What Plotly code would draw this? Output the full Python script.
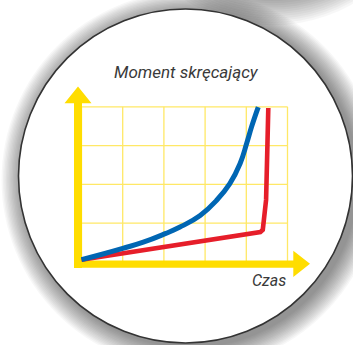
import plotly.graph_objects as go

# --- data (grid units: 5 columns x 4 rows) ---
grid_x = [0, 1, 2, 3, 4, 5]
grid_y = [0, 1, 2, 3, 4]

blue_t = [0.0, 0.5, 1.0, 1.5, 2.03, 2.39, 2.88, 3.28, 3.60, 3.85, 4.01, 4.13, 4.29]
blue_m = [0.06, 0.20, 0.35, 0.51, 0.73, 0.90, 1.20, 1.59, 2.02, 2.54, 3.06, 3.49, 3.99]

red_t = [0.0, 4.34, 4.40, 4.43, 4.48, 4.51, 4.534]
red_m = [0.06, 0.77, 0.83, 1.10, 1.60, 2.89, 3.97]

y_label = "Moment skręcający"
x_label = "Czas"

# --- page geometry ---
W, H = 353, 345
PX0, PY0 = 81.5, 262.0   # pixel position of the grid origin
SX, SY = 41.2, 38.8      # pixels per grid unit


def ux(px):
    return (px - PX0) / SX


def uy(py):
    return (PY0 - py) / SY


YELLOW = "#FFDD00"
GRID = "#FFE866"
BLUE = "#0066B3"
RED = "#E61E2A"
TEXT = "#3a3a3a"

shapes = []

# soft shadow band along the top edge
for i in range(12):
    g = i * 2.2
    cx, cy, rx, ry = 272, -95, 118 + g, 96 + g
    shapes.append(dict(type="circle", xref="x", yref="y", layer="below",
                       x0=ux(cx - rx), x1=ux(cx + rx), y0=uy(cy + ry), y1=uy(cy - ry),
                       fillcolor="rgba(0,0,0,0.03)", line_width=0))

# drop shadow of the disc
CX, CY, R = 185.5, 176.0, 167.0
for i in range(16):
    r = R + 1 + i * 1.4
    ox, oy = 5, 4
    shapes.append(dict(type="circle", xref="x", yref="y", layer="below",
                       x0=ux(CX + ox - r), x1=ux(CX + ox + r),
                       y0=uy(CY + oy + r), y1=uy(CY + oy - r),
                       fillcolor="rgba(0,0,0,0.032)", line_width=0))

# white disc with dark rim
shapes.append(dict(type="circle", xref="x", yref="y", layer="below",
                   x0=ux(CX - R), x1=ux(CX + R), y0=uy(CY + R), y1=uy(CY - R),
                   fillcolor="white", line=dict(color="#333333", width=1.6)))

# grid
for gx in grid_x:
    shapes.append(dict(type="line", xref="x", yref="y", layer="below",
                       x0=gx, x1=gx, y0=grid_y[0], y1=grid_y[-1],
                       line=dict(color=GRID, width=1.3)))
for gy in grid_y:
    shapes.append(dict(type="line", xref="x", yref="y", layer="below",
                       x0=grid_x[0], x1=grid_x[-1], y0=gy, y1=gy,
                       line=dict(color=GRID, width=1.3)))


def poly(pts):
    return "M " + " L ".join(f"{ux(a):.4f},{uy(b):.4f}" for a, b in pts) + " Z"


# vertical axis with arrow head
shapes.append(dict(type="path", xref="x", yref="y", layer="below",
                   path=poly([(74, 268), (82, 268), (82, 103.3), (91.5, 103.3),
                              (78, 86.5), (64.5, 103.3), (74, 103.3)]),
                   fillcolor=YELLOW, line_width=0))
# horizontal axis with arrow head
shapes.append(dict(type="path", xref="x", yref="y", layer="below",
                   path=poly([(74, 260.5), (293.3, 260.5), (293.3, 250.7), (310, 263.8),
                              (293.3, 276.9), (293.3, 267.8), (74, 267.8)]),
                   fillcolor=YELLOW, line_width=0))

fig = go.Figure()
fig.add_trace(go.Scatter(x=red_t, y=red_m, mode="lines",
                         line=dict(color=RED, width=4.6), hoverinfo="skip"))
fig.add_trace(go.Scatter(x=blue_t, y=blue_m, mode="lines",
                         line=dict(color=BLUE, width=5, shape="spline", smoothing=1.3),
                         hoverinfo="skip"))

annotations = [
    dict(x=ux(186), y=uy(72), xref="x", yref="y", text=f"<i>{y_label}</i>",
         showarrow=False, xanchor="center", yanchor="middle",
         font=dict(family="Roboto", size=17, color=TEXT)),
    dict(x=ux(269), y=uy(280.5), xref="x", yref="y", text=f"<i>{x_label}</i>",
         showarrow=False, xanchor="center", yanchor="middle",
         font=dict(family="Roboto", size=16, color=TEXT)),
]

fig.update_layout(
    width=W, height=H, margin=dict(l=0, r=0, t=0, b=0),
    paper_bgcolor="white", plot_bgcolor="white",
    showlegend=False, shapes=shapes, annotations=annotations,
    xaxis=dict(range=[ux(0), ux(W)], visible=False, fixedrange=True),
    yaxis=dict(range=[uy(H), uy(0)], visible=False, fixedrange=True),
)

fig.write_html("out.html", config={"displayModeBar": False})
